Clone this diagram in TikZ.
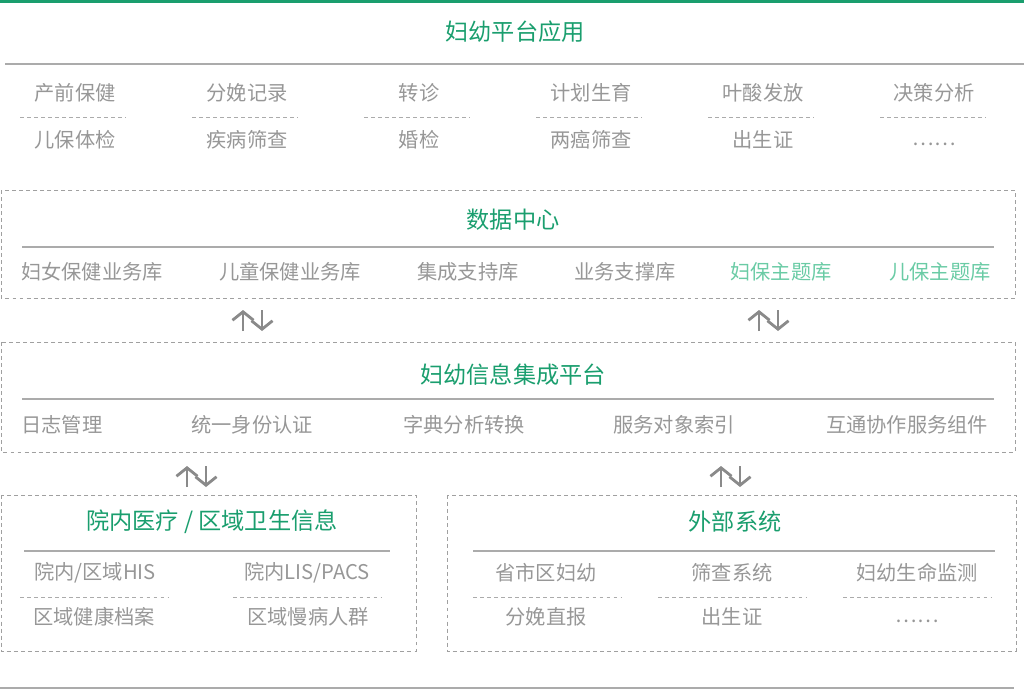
\documentclass[tikz,border=0pt]{standalone}
\usepackage{fontspec}
\setmainfont{Noto Sans CJK SC}
\usetikzlibrary{arrows.meta}
\definecolor{fyGreen}{HTML}{1A9E6E}
\definecolor{fyLight}{HTML}{6ACBA5}
\definecolor{fyText}{HTML}{979797}
\definecolor{fyLine}{HTML}{ABABAB}
\definecolor{fyBox}{HTML}{A0A0A0}
\definecolor{fyArrow}{HTML}{8A8A8A}
\tikzset{
  title/.style={text=fyGreen, font=\fontsize{16.5}{18}\selectfont, inner sep=0pt},
  item/.style={text=fyText, font=\fontsize{14.4}{16}\selectfont, inner sep=0pt},
  hline/.style={draw=fyLine, line width=1.1pt},
  sepline/.style={draw=fyLine, line width=0.6pt, dash pattern=on 2.6pt off 2.4pt},
  boxline/.style={draw=fyBox, line width=0.6pt, dash pattern=on 2.8pt off 2.2pt},
  flow/.style={draw=fyArrow, line width=2pt, -{Straight Barb[length=6pt,width=15pt]}}
}
\begin{document}
\begin{tikzpicture}[x=0.025cm,y=-0.025cm]
  \useasboundingbox (0,0) rectangle (1024,689);
% application layer
  \draw[draw=fyGreen, line width=2.1pt] (0,1.5) -- (1024,1.5);
  \node[title] (tApp) at (515,32) {妇幼平台应用};
  \draw[hline] (5,64) -- (1024,64);
  \node[item] (app1) at (75,93) {产前保健};
  \node[item] (app2) at (247,93) {分娩记录};
  \node[item] (app3) at (419,93) {转诊};
  \node[item] (app4) at (591,93) {计划生育};
  \node[item] (app5) at (763,93) {叶酸发放};
  \node[item] (app6) at (934,93) {决策分析};
  \foreach \cx in {73,245,417,589,761,933}
    \draw[sepline] (\cx-53,117) -- (\cx+53,117);
  \node[item] (app7) at (75,140) {儿保体检};
  \node[item] (app8) at (247,140) {疾病筛查};
  \node[item] (app9) at (419,140) {婚检};
  \node[item] (app10) at (591,140) {两癌筛查};
  \node[item] (app11) at (763,140) {出生证};
  \node[item] (app12) at (934,144) {……};
% data centre
  \draw[boxline] (1,190) rectangle (1015,298);
  \node[title] (tDC) at (513,220) {数据中心};
  \draw[hline] (22,247) -- (994,247);
  \node[item] (dc1) at (92,272) {妇女保健业务库};
  \node[item] (dc2) at (290,272) {儿童保健业务库};
  \node[item] (dc3) at (468,272) {集成支持库};
  \node[item] (dc4) at (625,272) {业务支撑库};
  \node[item, text=fyLight] (dc5) at (781,272) {妇保主题库};
  \node[item, text=fyLight] (dc6) at (940,272) {儿保主题库};
% arrows dc <-> integration
  \coordinate (a1lo) at (243,331); \coordinate (a1hi) at (243,310);
  \coordinate (a2lo) at (262,331); \coordinate (a2hi) at (262,310);
  \coordinate (a3lo) at (759,331); \coordinate (a3hi) at (759,310);
  \coordinate (a4lo) at (778,331); \coordinate (a4hi) at (778,310);
  \draw[flow] (a1lo) -- (a1hi);
  \draw[flow] (a2hi) -- (a2lo);
  \draw[flow] (a3lo) -- (a3hi);
  \draw[flow] (a4hi) -- (a4lo);
% integration platform
  \draw[boxline] (1,342) rectangle (1015,452);
  \node[title] (tIP) at (513,375) {妇幼信息集成平台};
  \draw[hline] (22,399) -- (994,399);
  \node[item] (ip1) at (62,425) {日志管理};
  \node[item] (ip2) at (252,425) {统一身份认证};
  \node[item] (ip3) at (464,425) {字典分析转换};
  \node[item] (ip4) at (674,425) {服务对象索引};
  \node[item] (ip5) at (907,425) {互通协作服务组件};
% arrows integration <-> sources
  \coordinate (b1lo) at (187,487); \coordinate (b1hi) at (187,466);
  \coordinate (b2lo) at (206,487); \coordinate (b2hi) at (206,466);
  \coordinate (b3lo) at (721,487); \coordinate (b3hi) at (721,466);
  \coordinate (b4lo) at (740,487); \coordinate (b4hi) at (740,466);
  \draw[flow] (b1lo) -- (b1hi);
  \draw[flow] (b2hi) -- (b2lo);
  \draw[flow] (b3lo) -- (b3hi);
  \draw[flow] (b4hi) -- (b4lo);
% hospital / regional
  \draw[boxline] (1,495) rectangle (416,651);
  \node[title] (tHosp) at (212,522) {院内医疗 / 区域卫生信息};
  \draw[hline] (24,551) -- (390,551);
  \node[item] (ho1) at (95,573) {院内/区域HIS};
  \node[item] (ho2) at (307,573) {院内LIS/PACS};
  \draw[sepline] (20,597) -- (168,597);
  \draw[sepline] (233,597) -- (382,597);
  \node[item] (ho3) at (94,617) {区域健康档案};
  \node[item] (ho4) at (308,617) {区域慢病人群};
% external systems
  \draw[boxline] (447,495) rectangle (1016,651);
  \node[title] (tExt) at (735,522) {外部系统};
  \draw[hline] (473,551) -- (995,551);
  \node[item] (ex1) at (546,573) {省市区妇幼};
  \node[item] (ex2) at (732,573) {筛查系统};
  \node[item] (ex3) at (917,573) {妇幼生命监测};
  \draw[sepline] (473,597) -- (621,597);
  \draw[sepline] (658,597) -- (806,597);
  \draw[sepline] (843,597) -- (992,597);
  \node[item] (ex4) at (546,617) {分娩直报};
  \node[item] (ex5) at (732,617) {出生证};
  \node[item] (ex6) at (917,621) {……};
  \draw[hline] (0,688) -- (1014,688);
\end{tikzpicture}
\end{document}
